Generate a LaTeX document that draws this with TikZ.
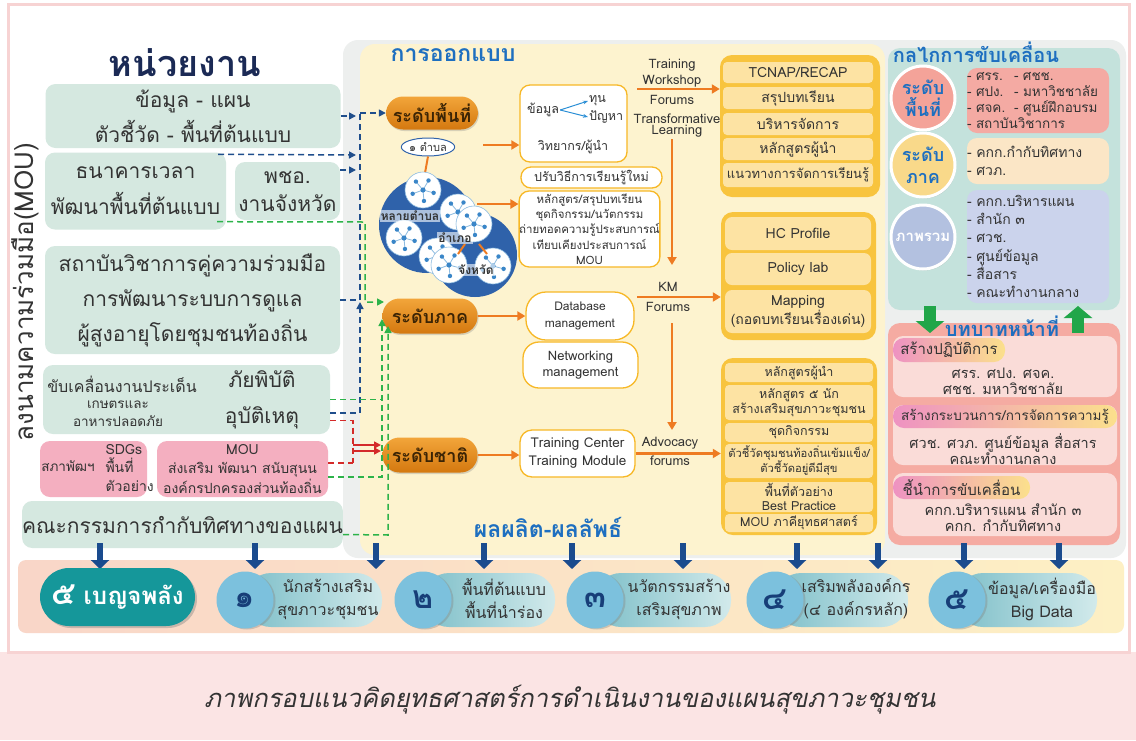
\documentclass[tikz,border=0pt]{standalone}
\usepackage{fontspec}
\setmainfont{Loma}[Script=Thai]
\newfontfamily\capfont{Loma}[Script=Thai,FakeSlant=0.2]
\usetikzlibrary{arrows.meta,shapes.geometric,shadows,positioning}

\definecolor{navy}{HTML}{1B2A55}
\definecolor{txt}{HTML}{333333}
\definecolor{boxgreen}{HTML}{D5E8E0}
\definecolor{boxpink}{HTML}{F4AFC0}
\definecolor{greyframe}{HTML}{EDEFEE}
\definecolor{yellowpanel}{HTML}{FDF3CF}
\definecolor{titleblue}{HTML}{1E6FC0}
\definecolor{orangeL}{HTML}{F2A53A}
\definecolor{orangeD}{HTML}{D4780F}
\definecolor{pilltxt}{HTML}{3B2405}
\definecolor{orangeA}{HTML}{EE7B22}
\definecolor{gold}{HTML}{F8C43E}
\definecolor{cellfill}{HTML}{FDE3A3}
\definecolor{bordgold}{HTML}{F7B826}
\definecolor{netblue}{HTML}{2F62AA}
\definecolor{netdot}{HTML}{3A86C8}
\definecolor{netline}{HTML}{8DBBE0}
\definecolor{tealpanel}{HTML}{C4E2DC}
\definecolor{pinkpanel}{HTML}{F5ABA2}
\definecolor{circA}{HTML}{F4A399}
\definecolor{circB}{HTML}{F9D98A}
\definecolor{circC}{HTML}{B3C1E0}
\definecolor{rboxA}{HTML}{F4AAA3}
\definecolor{rboxB}{HTML}{FBE6C6}
\definecolor{rboxC}{HTML}{CBD3EC}
\definecolor{subpink}{HTML}{FADCD8}
\definecolor{hdrL}{HTML}{EE92C2}
\definecolor{hdrR}{HTML}{FBE08C}
\definecolor{greenblk}{HTML}{21A649}
\definecolor{blueblk}{HTML}{1A4B8E}
\definecolor{bandL}{HTML}{F9D6C8}
\definecolor{bandR}{HTML}{FDF0C4}
\definecolor{benja}{HTML}{15979A}
\definecolor{numcirc}{HTML}{7CC1DD}
\definecolor{pillL}{HTML}{7EBFC9}
\definecolor{pillR}{HTML}{D2EAEB}
\definecolor{numcol}{HTML}{173E78}
\definecolor{capband}{HTML}{FBE4E4}
\definecolor{pinkframe}{HTML}{F7D3D3}
\definecolor{bdashc}{HTML}{1F4E8C}
\definecolor{gdashc}{HTML}{2DB34A}
\definecolor{rdashc}{HTML}{D42A2A}
\definecolor{smallblue}{HTML}{2B8FD6}

\newcommand{\fsz}[2]{\fontsize{#1}{#2}\selectfont}

% one small network bubble of the area cluster
\newcommand{\netcirc}[2]{%
  \fill[white] (#1,#2) circle (18);
  \draw[netline, line width=0.6] (#1,#2) circle (18);
  \foreach \a in {15,85,160,230,300} {
    \draw[netline, line width=0.8] (#1,#2) -- ++(\a:11);
    \fill[netdot] (#1,#2) ++(\a:11) circle (2.2);
  }
  \fill[netdot] (#1,#2) circle (2.6);
}

\begin{document}
\begin{tikzpicture}[x=1pt,y=-1pt,
  greenbox/.style={fill=boxgreen, rounded corners=10, inner sep=0, text=txt, align=center},
  pinkbox/.style={fill=boxpink, rounded corners=10, inner sep=0, text=txt, align=center},
  lvl/.style={top color=orangeL, bottom color=orangeD, rounded corners=17, minimum width=95,
    minimum height=35, inner sep=0, text=pilltxt, font=\bfseries\fsz{18}{20},
    drop shadow={shadow xshift=1pt, shadow yshift=-1.5pt, opacity=0.3}},
  wbox/.style={draw=bordgold, line width=1.3, fill=white, rounded corners=10, inner sep=0,
    align=center, text=txt},
  oarrow/.style={draw=orangeA, line width=2.4, -{Triangle[length=8pt,width=9pt]}},
  forum/.style={font=\fsz{13}{16}, align=center, text=txt, inner sep=0},
  panelcell/.style={fill=cellfill, rounded corners=4, inner sep=0, align=center, text=txt},
  rbox/.style={rounded corners=10, inner sep=0, align=left, text width=142, text=txt},
  mcirc/.style={circle, draw=white, line width=3, minimum size=64, inner sep=0, align=center,
    font=\bfseries\fsz{18}{22}, drop shadow={shadow xshift=1pt, shadow yshift=-1.5pt, opacity=0.3}},
  subbox/.style={fill=subpink, rounded corners=10, inner sep=0},
  hdr/.style={left color=hdrL, right color=hdrR, rounded corners=11, inner sep=0,
    font=\fsz{15}{18}, text=txt},
  bdash/.style={draw=bdashc, line width=1.5, dash pattern=on 6pt off 4pt},
  gdash/.style={draw=gdashc, line width=1.5, dash pattern=on 6pt off 4pt},
  rdash/.style={draw=rdashc, line width=1.5, dash pattern=on 6pt off 4pt},
  dtip/.style={-{Triangle[length=7pt,width=7pt]}},
  numc/.style={circle, fill=numcirc, minimum size=57, inner sep=0, font=\bfseries\fsz{32}{34},
    text=numcol, drop shadow={shadow xshift=2pt, shadow yshift=-1pt, opacity=0.35}},
  numpill/.style={left color=pillL, right color=pillR, rounded corners=26, minimum height=54, inner sep=0},
  numtxt/.style={font=\fsz{16}{23}, align=center, text=txt, inner sep=0}]

\useasboundingbox (0,0) rectangle (1136,740);
\fill[white] (0,0) rectangle (1136,740);
\fill[capband] (0,652) rectangle (1136,740);
\draw[pinkframe, line width=3] (8,4) rectangle (1129,652);

% caption
\node[font=\capfont\fsz{25.5}{30}, text=txt] (caption) at (570,700) {ภาพกรอบแนวคิดยุทธศาสตร์การดำเนินงานของแผนสุขภาวะชุมชน};

% panels behind the design part
\fill[greyframe, rounded corners=15] (343,40) rectangle (1126,558);
\fill[yellowpanel, rounded corners=15] (360,44) rectangle (885,555);

% ---------- partners (left column)
\node[font=\bfseries\fsz{36}{40}, text=navy] (unit) at (185,63) {หน่วยงาน};
\node[greenbox, minimum width=295, minimum height=64, font=\fsz{21}{35}] (boxA) at (193,116) {ข้อมูล - แผน\\ตัวชี้วัด - พื้นที่ต้นแบบ};
\node[greenbox, minimum width=181, minimum height=77, font=\fsz{21}{36}] (boxB) at (135.5,191) {ธนาคารเวลา\\พัฒนาพื้นที่ต้นแบบ};
\node[greenbox, minimum width=105, minimum height=58, font=\fsz{21}{28}] (boxC) at (287.5,191) {พชอ.\\งานจังหวัด};
\node[greenbox, minimum width=295, minimum height=108, font=\fsz{21}{35}] (boxD) at (192.5,300) {สถาบันวิชาการคู่ความร่วมมือ\\การพัฒนาระบบการดูแล\\ผู้สูงอายุโดยชุมชนท้องถิ่น};
\node[greenbox, minimum width=287, minimum height=69] (boxE) at (186.5,399.5) {};
\node[font=\fsz{16}{20}, text=txt] (drive) at (122,384) {ขับเคลื่อนงานประเด็น};
\node[font=\fsz{13.5}{18}, text=txt, align=center] (food) at (118,414) {เกษตรและ\\อาหารปลอดภัย};
\node[font=\fsz{21}{36}, text=txt, align=center] (hazard) at (262,400) {ภัยพิบัติ\\อุบัติเหตุ};
\node[pinkbox, minimum width=107, minimum height=56] (boxF) at (93.5,469) {};
\node[font=\fsz{13.5}{18}, text=txt] (nesdc) at (68,466) {สภาพัฒฯ};
\node[font=\fsz{14}{18.5}, text=txt, align=left, anchor=west] (sdg) at (102,468) {SDGs\\พื้นที่\\ตัวอย่าง};
\node[pinkbox, minimum width=171, minimum height=56, font=\fsz{14}{19.5}] (boxG) at (242.5,469) {MOU\\ส่งเสริม พัฒนา สนับสุนน\\องค์กรปกครองส่วนท้องถิ่น};
\node[greenbox, minimum width=295, minimum height=47, font=\fsz{21}{25}] (boxH) at (182.5,524.5) {คณะกรรมการกำกับทิศทางของแผน};
\node[rotate=90, font=\fsz{26}{30}, text=txt] (mou) at (25,292) {ลงนามความร่วมมือ(MOU)};

% ---------- design part
\node[font=\bfseries\fsz{23}{26}, text=titleblue] (designT) at (453,55) {การออกแบบ};
\node[font=\bfseries\fsz{23}{26}, text=titleblue] (outT) at (548,527) {ผลผลิต-ผลลัพธ์};

\node[lvl, minimum width=92, minimum height=33] (pArea) at (432,113) {ระดับพื้นที่};
\node[lvl] (pRegion) at (430,316) {ระดับภาค};
\node[lvl] (pNation) at (430,455) {ระดับชาติ};

% area cluster: tambon, district, province
\node[ellipse, draw=netblue, line width=1, fill=white, minimum width=52, minimum height=18, inner sep=0,
  font=\fsz{11}{12}, text=txt] (tambon) at (428,147) {๑ ตำบล};
\draw[orangeA, line width=2] (tambon.south) -- (425,173);
\fill[netblue] (427,225) circle (48);
\fill[netblue] (475,255) circle (42);
\netcirc{423}{190}
\netcirc{404}{238}
\netcirc{458}{212}
\netcirc{474}{224}
\netcirc{437}{256}
\netcirc{449}{265}
\netcirc{493}{266}
\draw[orangeA, line width=2] (465,244) -- (458,254);
\draw[orangeA, line width=2] (479,244) -- (487,254);
\node[font=\bfseries\fsz{12}{14}, text=txt, fill=white, fill opacity=0.6, text opacity=1, inner sep=1] (manyT) at (410,216) {หลายตำบล};
\node[font=\bfseries\fsz{12}{14}, text=txt, fill=white, fill opacity=0.6, text opacity=1, inner sep=1] (amphoe) at (455,238) {อำเภอ};
\node[font=\bfseries\fsz{12}{14}, text=txt, fill=white, fill opacity=0.6, text opacity=1, inner sep=1] (province) at (476,270) {จังหวัด};

% white boxes of the design part
\node[wbox, minimum width=107, minimum height=77] (dataBox) at (573.5,123.5) {};
\node[font=\fsz{12.5}{14}, text=txt, inner sep=1] (data) at (543,110) {ข้อมูล};
\node[font=\fsz{12.5}{14}, text=txt, inner sep=1, anchor=west] (tun) at (588,101) {ทุน};
\node[font=\fsz{12.5}{14}, text=txt, inner sep=1, anchor=west] (panha) at (588,117) {ปัญหา};
\draw[smallblue, line width=1, -{Stealth[length=5pt]}] (data.east) -- (tun.west);
\draw[smallblue, line width=1, -{Stealth[length=5pt]}] (data.east) -- (panha.west);
\node[font=\fsz{12.5}{14}, text=txt] (lecturer) at (573,147) {วิทยากร/ผู้นำ};
\node[wbox, minimum width=141, minimum height=21, font=\fsz{12.5}{14}] (newLearn) at (591.5,177.5) {ปรับวิธีการเรียนรู้ใหม่};
\node[wbox, minimum width=137, minimum height=76, font=\fsz{11.5}{15.2}] (learnBox) at (589.5,229) {หลักสูตร/สรุปบทเรียน\\ชุดกิจกรรม/นวัตกรรม\\ถ่ายทอดความรู้ประสบการณ์\\เทียบเคียงประสบการณ์\\MOU};
\node[wbox, rounded corners=20, minimum width=108, minimum height=48, font=\fsz{12}{17}] (db) at (580,316) {Database\\management};
\node[wbox, rounded corners=16, minimum width=115, minimum height=46, font=\fsz{13}{16.5}] (netBox) at (580.5,365) {Networking\\management};
\node[wbox, rounded corners=12, minimum width=115, minimum height=47, font=\fsz{13.5}{18}] (tc) at (577.5,453.5) {Training Center\\Training Module};

% forums
\node[forum] (twF) at (672,73) {Training\\Workshop};
\node[forum] (twF2) at (672,100) {Forums};
\node[forum, font=\fsz{13}{11}] (tlF) at (677,126) {Transformative\\Learning};
\node[forum, font=\fsz{13}{20}] (kmF) at (668,297) {KM\\Forums};
\node[forum, font=\fsz{13}{19}] (adF) at (670,451) {Advocacy\\forums};

% result panels
\node[fill=gold, rounded corners=12, minimum width=160, minimum height=142, inner sep=0] (tcnap) at (800,126) {};
\node[panelcell, minimum width=150, minimum height=21, font=\fsz{14}{16}] (c11) at (798,72.5) {TCNAP/RECAP};
\node[panelcell, minimum width=150, minimum height=22, font=\fsz{14}{16}] (c12) at (798,98) {สรุปบทเรียน};
\node[panelcell, minimum width=150, minimum height=22, font=\fsz{14}{16}] (c13) at (798,124) {บริหารจัดการ};
\node[panelcell, minimum width=150, minimum height=22, font=\fsz{14}{16}] (c14) at (798,149) {หลักสูตรผู้นำ};
\node[panelcell, minimum width=150, minimum height=24, font=\fsz{13}{16}] (c15) at (798,175) {แนวทางการจัดการเรียนรู้};

\node[fill=gold, rounded corners=12, minimum width=155, minimum height=128, inner sep=0] (hcPanel) at (798.5,276) {};
\node[panelcell, rounded corners=7, minimum width=146, minimum height=33, font=\fsz{14}{16}] (c21) at (798,233.5) {HC Profile};
\node[panelcell, rounded corners=7, minimum width=146, minimum height=32, font=\fsz{14}{16}] (c22) at (798,269) {Policy lab};
\node[panelcell, rounded corners=7, minimum width=146, minimum height=43, font=\fsz{14}{17}] (c23) at (798,311.5) {Mapping\\(ถอดบทเรียนเรื่องเด่น)};

\node[fill=gold, rounded corners=12, minimum width=156, minimum height=177, inner sep=0] (outPanel) at (799,446.5) {};
\node[panelcell, minimum width=148, minimum height=19, font=\fsz{12.5}{15}] (c31) at (799,372.5) {หลักสูตรผู้นำ};
\node[panelcell, minimum width=148, minimum height=35, font=\fsz{12.5}{15}] (c32) at (799,402.5) {หลักสูตร ๕ นัก\\สร้างเสริมสุขภาวะชุมชน};
\node[panelcell, minimum width=148, minimum height=19, font=\fsz{12.5}{15}] (c33) at (799,432.5) {ชุดกิจกรรม};
\node[panelcell, minimum width=148, minimum height=34, font=\fsz{11.2}{15}] (c34) at (799,461) {ตัวชี้วัดชุมชนท้องถิ่นเข้มแข็ง/\\ตัวชี้วัดอยู่ดีมีสุข};
\node[panelcell, minimum width=148, minimum height=30, font=\fsz{12.5}{14}] (c35) at (799,497) {พื้นที่ตัวอย่าง\\Best Practice};
\node[panelcell, minimum width=148, minimum height=18, font=\fsz{12.5}{15}] (c36) at (799,523) {MOU ภาคียุทธศาสตร์};

% orange flow
\coordinate (tamOut) at (483,145);
\coordinate (netOut) at (477,204);
\coordinate (twA) at (637,89);
\coordinate (tlA) at (672,139);
\coordinate (tlB) at (672,265);
\coordinate (kmA) at (637,297);
\coordinate (kmB) at (672,323);
\coordinate (adT) at (672,430);
\draw[oarrow] (tamOut) -- (tamOut -| dataBox.west);
\draw[oarrow] (netOut) -- (netOut -| learnBox.west);
\draw[oarrow] (pRegion.east) -- (db.west);
\draw[oarrow] (pNation.east) -- (pNation.east -| tc.west);
\draw[oarrow] (twA) -- (twA -| tcnap.west);
\draw[oarrow] (tlA) -- (tlB);
\draw[oarrow] (kmA) -- (kmA -| hcPanel.west);
\draw[oarrow] (kmB) -- (adT);
\draw[oarrow] (tc.east) -- (tc.east -| outPanel.west);

% dashed links from partners to the levels
\draw[bdash, dtip] (boxA.east) -- (356,116);
\draw[bdash, dtip] (360,113) -- (pArea.west);
\draw[bdash] (360,300) -- (360,113);
\draw[bdash, dtip] (boxB.north east) ++(-8,2) -- (356,155);
\draw[bdash, dtip] (boxC.east) ++(0,-21) -- (356,170);
\draw[bdash] (boxD.east) -- (360,300);
\draw[bdash, dtip] (boxE.east) ++(0,13.5) -- (360,413) -- (360,302);
\draw[gdash, dtip] (boxB.south east) ++(-9,-8) -- (365,222) -- (365,302) -- (384,302);
\draw[gdash] (boxE.east) -- (382,399.5);
\draw[gdash, dtip] (boxG.east) ++(0,8) -- (382,477) -- (382,319);
\draw[gdash, dtip] (boxH.east) ++(0,10) -- (388,535) -- (388,326);
\draw[rdash] (boxE.east) ++(0,21) -- (353,420.5) -- (353,463);
\draw[rdash] (boxG.east) ++(0,-6) -- (353,463);
\draw[rdashc, line width=1.5, dtip] (353,445) -- (381,445);
\draw[rdashc, line width=1.5, dtip] (353,451) -- (381,451);

% ---------- mechanism (right column)
\node[fill=tealpanel, rounded corners=12, minimum width=232, minimum height=262, inner sep=0] (mech) at (1004,179) {};
\node[rbox, fill=rboxA, minimum height=65, font=\fsz{13.5}{16}] (mA) at (1038,100.5) {\makebox[47pt][l]{- ศรร.}- ศชช.\\\makebox[47pt][l]{- ศปง.}- มหาวิชชาลัย\\\makebox[47pt][l]{- ศจค.}- ศูนย์ฝึกอบรม\\- สถาบันวิชาการ};
\node[rbox, fill=rboxB, minimum height=46, font=\fsz{14}{18}] (mB) at (1038,161) {- คกก.กำกับทิศทาง\\- ศวภ.};
\node[rbox, fill=rboxC, minimum height=113, font=\fsz{14}{18.2}] (mC) at (1038,246.5) {- คกก.บริหารแผน\\- สำนัก ๓\\- ศวช.\\- ศูนย์ข้อมูล\\- สื่อสาร\\- คณะทำงานกลาง};
\node[mcirc, fill=circA, text=titleblue] (lvA) at (923,98) {ระดับ\\พื้นที่};
\node[mcirc, fill=circB, text=titleblue] (lvB) at (923,165) {ระดับ\\ภาค};
\node[mcirc, fill=circC, text=white, font=\bfseries\fsz{15}{18}] (lvC) at (923,237) {ภาพรวม};
\node[font=\bfseries\fsz{20}{22}, text=titleblue] (mechT) at (976,52) {กลไกการขับเคลื่อน};

% ---------- roles
\node[fill=pinkpanel, rounded corners=12, minimum width=232, minimum height=222, inner sep=0] (role) at (1004,434) {};
\draw[greenblk, line width=12, -{Triangle[length=12pt,width=28pt]}] (930,306) -- (930,333);
\draw[greenblk, line width=12, -{Triangle[length=12pt,width=28pt]}] (1078,333) -- (1078,306);
\node[subbox, minimum width=224, minimum height=61] (sA) at (1005,366.5) {};
\node[hdr, minimum width=112, minimum height=24] (hA) at (949,350) {สร้างปฏิบัติการ};
\node[font=\fsz{14.5}{16}, align=center, text=txt] (tA) at (1003,381) {ศรร. ศปง. ศจค.\\ศชช. มหาวิชชาลัย};
\node[subbox, minimum width=224, minimum height=60] (sB) at (1005,435) {};
\node[hdr, minimum width=224, minimum height=23, font=\fsz{13.5}{16}] (hB) at (1005,416.5) {สร้างกระบวนการ/การจัดการความรู้};
\node[font=\fsz{14.5}{16}, align=center, text=txt] (tB) at (1003,449) {ศวช. ศวภ. ศูนย์ข้อมูล สื่อสาร\\คณะทำงานกลาง};
\node[subbox, minimum width=224, minimum height=63] (sC) at (1005,504.5) {};
\node[hdr, minimum width=137, minimum height=23] (hC) at (961.5,487.5) {ชี้นำการขับเคลื่อน};
\node[font=\fsz{14.5}{16}, align=center, text=txt] (tC) at (1003,518) {คกก.บริหารแผน สำนัก ๓\\คกก. กำกับทิศทาง};
\node[font=\bfseries\fsz{20}{22}, text=titleblue] (roleT) at (1002,326) {บทบาทหน้าที่};

% ---------- five strengths band
\shade[left color=bandL, right color=bandR, rounded corners=8] (18,560) rectangle (1124,633);
\foreach \x in {100,255,376,484,572,683,797,878,964,1059}
  \draw[blueblk, line width=6, -{Triangle[length=9pt,width=18pt]}] (\x,543) -- (\x,569);

\node[fill=benja, rounded corners=29, minimum width=155, minimum height=58, inner sep=0, text=white,
  font=\bfseries\fsz{24}{26}, drop shadow={shadow xshift=2pt, shadow yshift=-2pt, opacity=0.4}] (benjaP) at (117.5,597) {{\fsz{32}{30}๕} เบญจพลัง};

\node[numpill, minimum width=137] (p1) at (313.5,600) {};
\node[numc] (n1) at (245,600) {๑};
\node[numtxt] (t1) at (328,599) {นักสร้างเสริม\\สุขภาวะชุมชน};
\node[numpill, minimum width=132] (p2) at (489,600) {};
\node[numc] (n2) at (423,600) {๒};
\node[numtxt] (t2) at (504,599) {พื้นที่ต้นแบบ\\พื้นที่นำร่อง};
\node[numpill, minimum width=136] (p3) at (663,600) {};
\node[numc] (n3) at (595,600) {๓};
\node[numtxt] (t3) at (679,599) {นวัตกรรมสร้าง\\เสริมสุขภาพ};
\node[numpill, minimum width=133] (p4) at (841.5,600) {};
\node[numc] (n4) at (775,600) {๔};
\node[numtxt] (t4) at (856,599) {เสริมพลังองค์กร\\(๔ องค์กรหลัก)};
\node[numpill, minimum width=140] (p5) at (1027,600) {};
\node[numc] (n5) at (957,600) {๕};
\node[numtxt] (t5) at (1042,599) {ข้อมูล/เครื่องมือ\\Big Data};

\end{tikzpicture}
\end{document}
